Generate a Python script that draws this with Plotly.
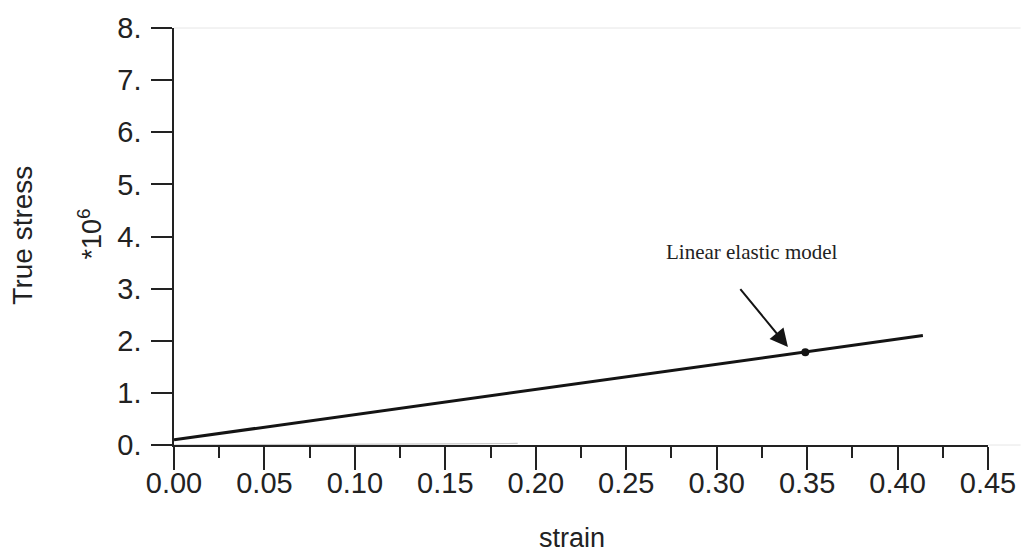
import plotly.graph_objects as go

# Data
model_strain = [0.0, 0.414]
model_stress = [0.1, 2.1]          # *10^6
marker_strain = [0.349]
marker_stress = [1.78]
faint_strain = [0.0, 0.05, 0.10, 0.15, 0.19]
faint_stress = [0.0, 0.004, 0.01, 0.02, 0.03]

y_ticks = [0, 1, 2, 3, 4, 5, 6, 7, 8]
y_labels = ["0.", "1.", "2.", "3.", "4.", "5.", "6.", "7.", "8."]
x_ticks = [0.0, 0.05, 0.10, 0.15, 0.20, 0.25, 0.30, 0.35, 0.40, 0.45]
x_labels = ["0.00", "0.05", "0.10", "0.15", "0.20", "0.25", "0.30", "0.35", "0.40", "0.45"]

fig = go.Figure()
fig.add_trace(go.Scatter(x=faint_strain, y=faint_stress, mode="lines",
                         line=dict(color="#c8c8c8", width=1.2), showlegend=False))
fig.add_trace(go.Scatter(x=model_strain, y=model_stress, mode="lines",
                         line=dict(color="#141414", width=3), showlegend=False))
fig.add_trace(go.Scatter(x=marker_strain, y=marker_stress, mode="markers",
                         marker=dict(color="#141414", size=8), showlegend=False))

font_sans = "Liberation Sans, Arial, sans-serif"

fig.update_layout(
    width=1031, height=558,
    margin=dict(l=174, r=43, t=19, b=113),
    plot_bgcolor="white", paper_bgcolor="white",
    xaxis=dict(range=[0, 0.45], tickvals=x_ticks, ticktext=x_labels,
               showgrid=False, zeroline=False, showline=True, linecolor="#222", linewidth=1.5,
               ticks="outside", ticklen=23, tickwidth=1.5, tickcolor="#222",
               ticklabelstandoff=-12,
               minor=dict(dtick=0.025, tick0=0, ticks="outside", ticklen=11, tickwidth=1.5, tickcolor="#222"),
               tickfont=dict(family=font_sans, size=29, color="#222")),
    yaxis=dict(range=[0, 8], tickvals=y_ticks, ticktext=y_labels,
               showgrid=False, zeroline=False, showline=True, linecolor="#222", linewidth=1.5,
               ticks="outside", ticklen=21, tickwidth=1.5, tickcolor="#222",
               ticklabelstandoff=4,
               tickfont=dict(family=font_sans, size=29, color="#222")),
    shapes=[
        dict(type="line", xref="paper", yref="paper", x0=0, x1=1.04, y0=1, y1=1,
             line=dict(color="#e6e6e6", width=1)),
        dict(type="line", xref="paper", yref="paper", x0=1, x1=1.04, y0=0, y1=0,
             line=dict(color="#e6e6e6", width=1)),
    ],
    annotations=[
        dict(text="True stress", xref="paper", yref="paper", x=-0.1855, y=0.502,
             xanchor="center", yanchor="middle",
             textangle=-90, showarrow=False, font=dict(family=font_sans, size=28, color="#222")),
        dict(text="*10<sup>6</sup>", xref="paper", yref="paper", x=-0.103, y=0.505,
             xanchor="center", yanchor="middle",
             textangle=-90, showarrow=False, font=dict(family=font_sans, size=27, color="#222")),
        dict(text="strain", xref="paper", yref="paper", x=0.489, y=-0.223,
             xanchor="center", yanchor="middle",
             showarrow=False, font=dict(family=font_sans, size=27, color="#222")),
        dict(text="Linear elastic model", xref="x", yref="y", x=0.3197, y=3.70,
             xanchor="center", yanchor="middle",
             showarrow=False, font=dict(family="Liberation Serif, Times New Roman, serif", size=21, color="#222")),
        dict(text="", xref="x", yref="y", x=0.3394, y=1.878, axref="x", ayref="y",
             ax=0.3124, ay=3.02, showarrow=True, arrowhead=2, arrowsize=1.8,
             arrowwidth=2, arrowcolor="#141414"),
    ],
)

fig.write_html("out.html")
